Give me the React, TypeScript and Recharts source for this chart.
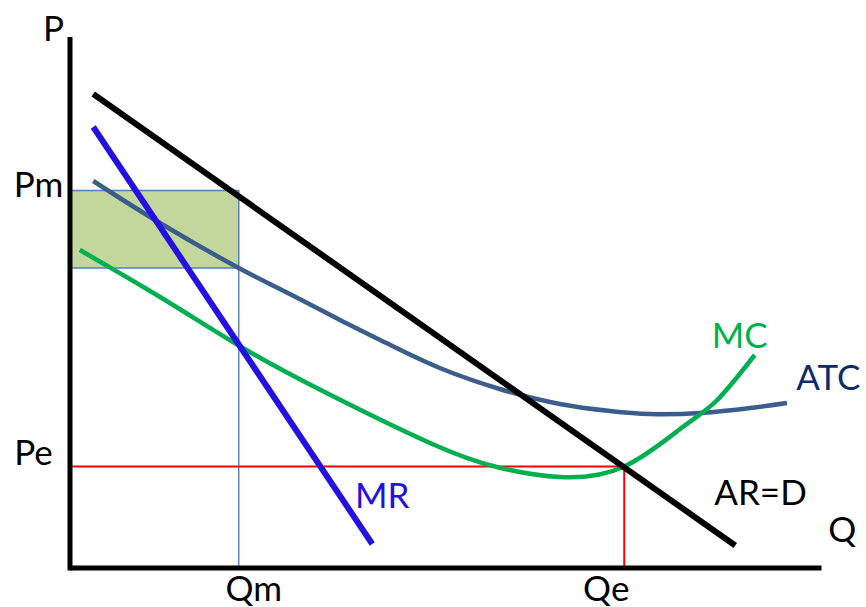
import React from 'react';
import {
  ComposedChart,
  Line,
  XAxis,
  YAxis,
  ReferenceLine,
  ReferenceArea,
  ReferenceDot,
} from 'recharts';

// curves in (quantity, price) units: q 0..100, p 0..106
const demandCurve = [
  { q: 3.1, p: 94.8 },
  { q: 88.7, p: 4.5 },
];

const mrCurve = [
  { q: 3.1, p: 88.2 },
  { q: 40.3, p: 4.8 },
];

const atcCurve = [
  { q: 3.1, p: 77.4 },
  { q: 12, p: 69 },
  { q: 22.5, p: 60 },
  { q: 29.3, p: 54.8 },
  { q: 36, p: 49.6 },
  { q: 42.7, p: 44.6 },
  { q: 49.3, p: 40 },
  { q: 57.3, p: 35.8 },
  { q: 65.3, p: 32.8 },
  { q: 72, p: 31.4 },
  { q: 77.3, p: 30.8 },
  { q: 84, p: 31 },
  { q: 90.7, p: 32 },
  { q: 95.6, p: 33 },
];

const mcCurve = [
  { q: 1.3, p: 63.6 },
  { q: 12, p: 54.2 },
  { q: 22.5, p: 44.5 },
  { q: 32.9, p: 36 },
  { q: 48, p: 25 },
  { q: 56.9, p: 20.2 },
  { q: 65.3, p: 18.2 },
  { q: 73.9, p: 20.3 },
  { q: 81.7, p: 28.2 },
  { q: 86.3, p: 33.6 },
  { q: 91.3, p: 42.6 },
];

// key levels
const Qm = 22.5;
const Qe = 73.9;
const Pm = 75.5;
const Pe = 20.3;
const atcAtQm = 60;

const labels = [
  { text: 'P', q: -3.6, p: 105.4, anchor: 'start', color: '#000000' },
  { text: 'Pm', q: -0.9, p: 74.2, anchor: 'end', color: '#000000' },
  { text: 'Pe', q: -2.3, p: 20.6, anchor: 'end', color: '#000000' },
  { text: 'Qm', q: 24.5, p: -6.6, anchor: 'middle', color: '#000000' },
  { text: 'Qe', q: 71.5, p: -6.6, anchor: 'middle', color: '#000000' },
  { text: 'Q', q: 101.1, p: 5.2, anchor: 'start', color: '#000000' },
  { text: 'MR', q: 38, p: 12, anchor: 'start', color: '#2410e0' },
  { text: 'AR=D', q: 85.9, p: 12.6, anchor: 'start', color: '#000000' },
  { text: 'MC', q: 89.3, p: 44, anchor: 'middle', color: '#00b050' },
  { text: 'ATC', q: 101.1, p: 35.6, anchor: 'middle', color: '#0d2b6b' },
];

const FONT = 'Lato, "Open Sans", sans-serif';

export default function App() {
  return (
    <div style={{ position: 'absolute', left: 0, top: 0, background: '#fff' }}>
      <ComposedChart
        width={866}
        height={607}
        margin={{ top: 38, right: 46, bottom: 39, left: 70 }}
      >
        <XAxis type="number" dataKey="q" domain={[0, 100]} hide allowDataOverflow />
        <YAxis type="number" dataKey="p" domain={[0, 106]} hide allowDataOverflow />

        {/* profit rectangle */}
        <ReferenceArea
          x1={0}
          x2={Qm}
          y1={atcAtQm}
          y2={Pm}
          fill="#c3d69b"
          fillOpacity={1}
          stroke="#4f81bd"
          strokeWidth={1.5}
          ifOverflow="visible"
        />
        <ReferenceLine
          segment={[{ x: Qm, y: 0 }, { x: Qm, y: atcAtQm }]}
          stroke="#5b8ac4"
          strokeWidth={1.5}
          ifOverflow="visible"
        />
        <ReferenceLine
          segment={[{ x: 0, y: Pe }, { x: Qe, y: Pe }]}
          stroke="#ff0000"
          strokeWidth={2}
          ifOverflow="visible"
        />
        <ReferenceLine
          segment={[{ x: Qe, y: 0 }, { x: Qe, y: Pe }]}
          stroke="#ff0000"
          strokeWidth={2}
          ifOverflow="visible"
        />

        <Line
          data={atcCurve}
          dataKey="p"
          type="natural"
          stroke="#3b5d8c"
          strokeWidth={4.5}
          dot={false}
          isAnimationActive={false}
        />
        <Line
          data={mcCurve}
          dataKey="p"
          type="natural"
          stroke="#00b050"
          strokeWidth={4.5}
          dot={false}
          isAnimationActive={false}
        />
        <Line
          data={mrCurve}
          dataKey="p"
          type="linear"
          stroke="#2410e0"
          strokeWidth={6}
          dot={false}
          isAnimationActive={false}
        />
        <Line
          data={demandCurve}
          dataKey="p"
          type="linear"
          stroke="#000000"
          strokeWidth={6}
          dot={false}
          isAnimationActive={false}
        />

        {/* axes */}
        <ReferenceLine
          segment={[{ x: 0, y: -0.5 }, { x: 0, y: 106.2 }]}
          stroke="#000"
          strokeWidth={5}
          ifOverflow="visible"
        />
        <ReferenceLine
          segment={[{ x: 0, y: 0 }, { x: 100.2, y: 0 }]}
          stroke="#000"
          strokeWidth={5}
          ifOverflow="visible"
        />

        {labels.map((l) => (
          <ReferenceDot
            key={l.text}
            x={l.q}
            y={l.p}
            r={0}
            ifOverflow="visible"
            shape={(props: any) => (
              <text
                x={props.cx}
                y={props.cy}
                textAnchor={l.anchor}
                fill={l.color}
                fontSize={35}
                fontFamily={FONT}
              >
                {l.text}
              </text>
            )}
          />
        ))}
      </ComposedChart>
    </div>
  );
}
